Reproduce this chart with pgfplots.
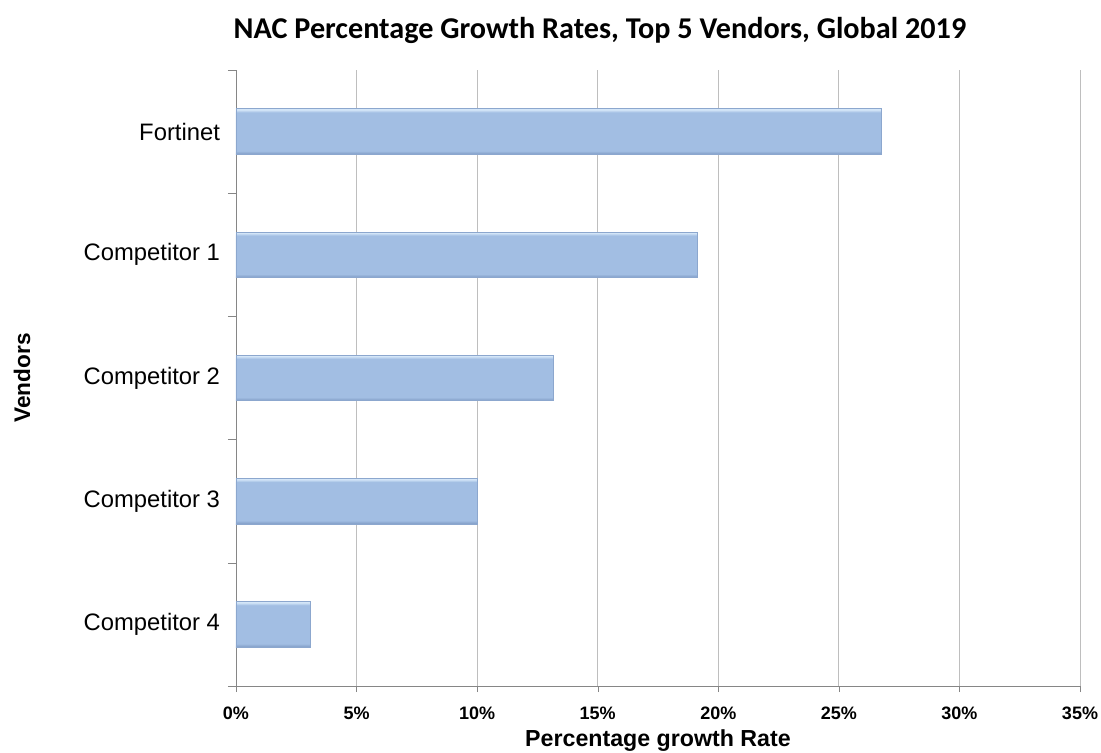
\documentclass[border=0pt]{standalone}
\usepackage{pgfplots}
\pgfplotsset{compat=1.18}
\usepackage{fontspec}
\setmainfont{Liberation Sans}
\newfontfamily\titlefont{Carlito}
\definecolor{barmain}{HTML}{A2BEE3}
\definecolor{barlight}{HTML}{D4E6F8}
\definecolor{bardark}{HTML}{7F9BC4}
\definecolor{baredge}{HTML}{8CA7CE}
\definecolor{axisgray}{HTML}{868686}
\definecolor{gridgray}{HTML}{BEBEBE}
\pgfdeclareverticalshading{bevel}{100bp}{color(0bp)=(bardark); color(25bp)=(bardark); color(29bp)=(barmain); color(71bp)=(barmain); color(74bp)=(barlight); color(75bp)=(barlight); color(100bp)=(barlight)}

\begin{document}
\begin{tikzpicture}
\useasboundingbox (-118pt,-33pt) rectangle (432.5pt,343pt);
\begin{axis}[
  at={(0,0)}, anchor=south west,
  scale only axis, width=422pt, height=308pt,
  /pgf/number format/assume math mode=true,
  xbar, bar width=0.37, bar shift=0pt,
  xmin=0, xmax=35, ymin=-0.5, ymax=4.5,
  axis x line*=bottom, axis y line*=left,
  axis line style={draw=axisgray, -},
  tick align=outside,
  major tick length=3pt, minor tick length=4pt,
  xtick={0,5,...,35},
  xticklabel={\pgfmathprintnumber{\tick}\%},
  xticklabel style={font=\bfseries\fontsize{9}{10}\selectfont, yshift=-4pt},
  ytick={0,1,2,3,4},
  yticklabels={Competitor 4,Competitor 3,Competitor 2,Competitor 1,Fortinet},
  minor ytick={-0.5,0.5,...,4.5},
  major y tick style={draw=none},
  minor y tick style={draw=axisgray},
  major x tick style={draw=axisgray},
  yticklabel style={font=\fontsize{11.9}{13}\selectfont, xshift=-1.5pt},
  xmajorgrids, grid style={draw=gridgray},
  xlabel={Percentage growth Rate},
  ylabel={Vendors},
  every axis x label/.style={at={(axis description cs:0.5,-0.0893)}, anchor=center, font=\bfseries\fontsize{11.6}{13}\selectfont},
  every axis y label/.style={at={(axis description cs:-0.2536,0.5)}, anchor=center, rotate=90, font=\bfseries\fontsize{11.3}{13}\selectfont},
  bevelbar/.style={xbar, shade, shading=bevel, draw=baredge},
]
\addplot[bevelbar] coordinates {(26.75,4)};
\addplot[bevelbar] coordinates {(19.15,3)};
\addplot[bevelbar] coordinates {(13.15,2)};
\addplot[bevelbar] coordinates {(10.0,1)};
\addplot[bevelbar] coordinates {(3.07,0)};
\end{axis}
\node[font=\titlefont\bfseries\fontsize{15.1}{17}\selectfont] at (182pt,328pt) {NAC Percentage Growth Rates, Top 5 Vendors, Global 2019};
\end{tikzpicture}
\end{document}
